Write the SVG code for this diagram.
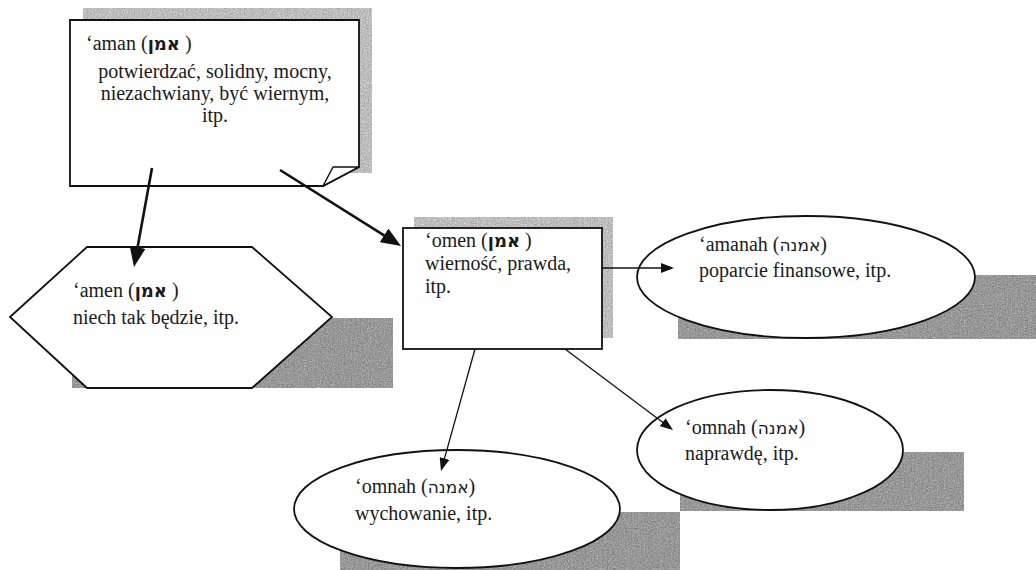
<svg xmlns="http://www.w3.org/2000/svg" width="1036" height="570" viewBox="0 0 1036 570">
<style>
.shadow-light{fill:#bdbdbd}
.shadow{fill:#8e8e8e}
.shape{fill:#ffffff;stroke:#111;stroke-width:1.8}
.t{font-family:"Liberation Serif","DejaVu Serif",serif;font-size:20px;fill:#1a1a1a}
.h{font-family:"DejaVu Sans","Liberation Serif",sans-serif;font-size:18px;font-weight:bold}
.h2{font-family:"DejaVu Sans","Liberation Serif",sans-serif;font-size:17px}
.c{text-anchor:middle}
.thick{stroke:#111;stroke-width:2.6;fill:none}
.thin{stroke:#111;stroke-width:1.3;fill:none}
</style>
<defs>
<filter id="grain" x="0" y="0" width="100%" height="100%" color-interpolation-filters="sRGB">
<feTurbulence type="fractalNoise" baseFrequency="0.7" numOctaves="2" seed="3" result="noise"/>
<feColorMatrix in="noise" type="matrix" values="0.33 0.33 0.33 0 0  0.33 0.33 0.33 0 0  0.33 0.33 0.33 0 0  0 0 0 0 1" result="g"/>
<feComposite in="g" in2="SourceGraphic" operator="arithmetic" k1="0" k2="0.6" k3="0.8" k4="-0.15" result="mix"/>
<feComposite in="mix" in2="SourceGraphic" operator="in"/>
</filter>
<marker id="headBig" markerUnits="userSpaceOnUse" markerWidth="20" markerHeight="16" refX="15" refY="8" orient="auto">
<path d="M0,0 L20,8 L0,16 Z" fill="#111"/>
</marker>
<marker id="headSmall" markerUnits="userSpaceOnUse" markerWidth="13" markerHeight="10" refX="10" refY="5" orient="auto">
<path d="M0,0 L13,5 L0,10 Z" fill="#111"/>
</marker>
</defs>
<rect width="1036" height="570" fill="#ffffff"/>

<g id="node-aman">
<rect class="shadow-light" x="83" y="8" width="289" height="165" filter="url(#grain)"/>
<path class="shape" d="M70,20 H359 V167 L323,186 H70 Z"/>
<path d="M323,186 L333,167 L359,167 Z" fill="#ffffff" stroke="#111" stroke-width="1.5" stroke-linejoin="round"/>
<text class="t" x="86" y="50">‘aman (<tspan class="h">אמן</tspan> )</text>
<text class="t c" x="215" y="78">potwierdzać, solidny, mocny,</text>
<text class="t c" x="215" y="100">niezachwiany, być wiernym,</text>
<text class="t c" x="215" y="122">itp.</text>
</g>

<g id="node-amen">
<rect class="shadow" x="72" y="318" width="321" height="70" filter="url(#grain)"/>
<polygon class="shape" points="10,317 87,247 252,247 332,317 252,388 87,388"/>
<text class="t" x="73" y="297">‘amen (<tspan class="h">אמן</tspan> )</text>
<text class="t" x="73" y="324">niech tak będzie, itp.</text>
</g>

<g id="node-omen">
<rect class="shadow-light" x="414" y="217" width="199" height="121" filter="url(#grain)"/>
<rect class="shape" x="403" y="228" width="199" height="121"/>
<text class="t" x="425" y="247">‘omen (<tspan class="h">אמן</tspan> )</text>
<text class="t" x="425" y="270">wierność, prawda,</text>
<text class="t" x="425" y="293">itp.</text>
</g>

<g id="node-amanah">
<rect class="shadow" x="678" y="275" width="358" height="64" filter="url(#grain)"/>
<ellipse class="shape" cx="806" cy="277" rx="169" ry="61"/>
<text class="t" x="699" y="251">‘amanah (<tspan class="h2">אמנה</tspan>)</text>
<text class="t" x="699" y="277">poparcie finansowe, itp.</text>
</g>

<g id="node-omnah-naprawde">
<rect class="shadow" x="680" y="452" width="284" height="59" filter="url(#grain)"/>
<ellipse class="shape" cx="770" cy="450" rx="133" ry="60"/>
<text class="t" x="685" y="434">‘omnah (<tspan class="h2">אמנה</tspan>)</text>
<text class="t" x="685" y="460">naprawdę, itp.</text>
</g>

<g id="node-omnah-wychowanie">
<rect class="shadow" x="340" y="512" width="340" height="58" filter="url(#grain)"/>
<ellipse class="shape" cx="457" cy="509" rx="163" ry="59"/>
<text class="t" x="355" y="493">‘omnah (<tspan class="h2">אמנה</tspan>)</text>
<text class="t" x="355" y="520">wychowanie, itp.</text>
</g>

<g id="connectors">
<line class="thick" x1="152" y1="168" x2="134.9" y2="262.1" marker-end="url(#headBig)"/>
<line class="thick" x1="280" y1="170" x2="396.8" y2="243.3" marker-end="url(#headBig)"/>
<line class="thin" x1="602" y1="268" x2="671" y2="268" marker-end="url(#headSmall)"/>
<line class="thin" x1="475" y1="349" x2="441.8" y2="468.1" marker-end="url(#headSmall)"/>
<line class="thin" x1="565" y1="349" x2="670.6" y2="428.2" marker-end="url(#headSmall)"/>
</g>
</svg>
